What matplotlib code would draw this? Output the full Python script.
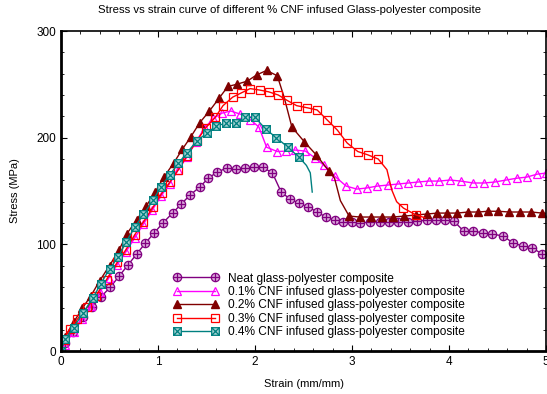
import numpy as np
import matplotlib
matplotlib.use("Agg")
import matplotlib.pyplot as plt
from matplotlib.path import Path

plt.rcParams['font.family'] = ['Liberation Sans', 'DejaVu Sans']

# Neat glass-polyester composite
neat_x = [0, 0.04, 0.12, 0.23, 0.32, 0.41, 0.51, 0.60, 0.69, 0.78, 0.87, 0.96, 1.05, 1.15,
          1.24, 1.33, 1.43, 1.52, 1.61, 1.71, 1.80, 1.90, 1.99, 2.08, 2.18, 2.27, 2.36, 2.45,
          2.55, 2.64, 2.73, 2.82, 2.91, 3.00, 3.08, 3.19, 3.29, 3.38, 3.47, 3.58, 3.67, 3.77,
          3.87, 3.96, 4.05, 4.15, 4.25, 4.35, 4.44, 4.56, 4.66, 4.76, 4.86, 4.96, 5.0]
neat_y = [0, 7.5, 17.8, 31.9, 41.2, 50.6, 60, 70.3, 80.6, 90.9, 101.2, 110.6, 120, 129.3,
          137.8, 146.2, 153.7, 162.1, 167.8, 171.5, 170.6, 171.5, 172.4, 172.4, 166.8, 149, 142.5, 138.7,
          135, 130.3, 125.6, 122.8, 120.9, 120.9, 120, 121, 121, 121, 121, 121, 121.8, 122.8,
          122.8, 122.8, 121.8, 112.5, 112.5, 110.6, 109.7, 107.8, 101.2, 98.4, 96.5, 91, 90]

# 0.1% CNF
c01_x = [0, 0.04, 0.13, 0.22, 0.31, 0.40, 0.49, 0.58, 0.67, 0.76, 0.85, 0.94, 1.03, 1.12,
         1.21, 1.30, 1.39, 1.48, 1.57, 1.66, 1.75, 1.85, 1.95, 2.04, 2.12, 2.23, 2.32, 2.41,
         2.52, 2.62, 2.71, 2.82, 2.94, 3.05, 3.15, 3.26, 3.37, 3.47, 3.58, 3.68, 3.79, 3.90,
         4.01, 4.12, 4.25, 4.36, 4.47, 4.59, 4.70, 4.80, 4.91, 5.0]
c01_y = [0, 6, 18, 30, 42, 55, 68, 81, 93, 106, 119, 132, 145, 157,
         170, 182, 196, 209, 218, 223, 225, 222, 217, 210, 191, 187, 187.4, 188.4,
         187.4, 181, 174, 164, 154.6, 151.8, 152.8, 154.6, 155.6, 156.5, 157.5, 158.4, 159.3, 159.3,
         160.3, 159.3, 157.5, 157.5, 158.4, 160.3, 162, 163, 165.8, 166.8]

# 0.2% CNF
c02_x = [0, 0.04, 0.13, 0.22, 0.31, 0.40, 0.50, 0.60, 0.68, 0.78, 0.88, 0.97, 1.06, 1.16,
         1.25, 1.34, 1.43, 1.53, 1.63, 1.72, 1.81, 1.92, 2.02, 2.12, 2.23, 2.30, 2.38, 2.51,
         2.63, 2.76, 2.82, 2.88, 2.97, 3.08, 3.20, 3.31, 3.42, 3.54, 3.66, 3.77, 3.88, 3.98,
         4.08, 4.20, 4.30, 4.40, 4.51, 4.62, 4.73, 4.85, 4.96, 5.0]
c02_y = [0, 13, 27, 40, 52, 66, 80, 95, 110, 123, 136, 149, 163, 176,
         189, 201, 214, 225, 237, 248, 250, 253, 259, 263, 258, 238, 210, 196,
         184, 169, 162, 141, 126.5, 125.6, 125.6, 125.6, 125.6, 126.5, 127.5, 128.4, 129.3, 129.3,
         129.3, 130.3, 130.3, 131, 131, 130.3, 130.3, 130.3, 129.3, 129]
c02_nomark = [25, 30, 31, 51]

# 0.3% CNF
c03_x = [0, 0.03, 0.09, 0.17, 0.27, 0.36, 0.47, 0.58, 0.67, 0.76, 0.85, 0.95, 1.04, 1.12,
         1.21, 1.30, 1.40, 1.49, 1.59, 1.67, 1.77, 1.86, 1.95, 2.05, 2.14, 2.24, 2.33, 2.43,
         2.54, 2.64, 2.74, 2.85, 2.95, 3.06, 3.16, 3.27, 3.36, 3.41, 3.46, 3.53, 3.66, 3.75]
c03_y = [0, 10, 21, 30, 41, 52, 67, 83, 95, 109, 121, 135, 148, 158,
         170, 183, 197, 209, 219, 230, 238, 242, 246, 244.6, 243, 240, 235, 230,
         228, 226, 217, 207, 195, 187, 184, 180, 170, 151, 140, 134, 127.5, 125]
c03_nomark = [36, 37, 38, 41]

# 0.4% CNF
c04_x = [0, 0.04, 0.13, 0.23, 0.33, 0.41, 0.50, 0.59, 0.67, 0.76, 0.85, 0.95, 1.03, 1.12,
         1.21, 1.30, 1.40, 1.50, 1.60, 1.70, 1.80, 1.90, 2.00, 2.11, 2.22, 2.34, 2.45, 2.53,
         2.57, 2.59]
c04_y = [0, 11, 22, 36, 50, 63, 77, 88, 102, 116, 128, 141.5, 154, 165,
         176, 186, 197, 204, 211, 213.6, 213.6, 219, 219, 208, 200, 191, 182, 174,
         167, 149]
c04_nomark = [27, 28, 29]

labels = ["Neat glass-polyester composite",
          "0.1% CNF infused glass-polyester composite",
          "0.2% CNF infused glass-polyester composite",
          "0.3% CNF infused glass-polyester composite",
          "0.4% CNF infused glass-polyester composite"]


def marked(n, skip=()):
    return [i for i in range(n) if i not in skip]


# circle with a plus, square with an X
M, L = Path.MOVETO, Path.LINETO
oplus = Path.make_compound_path(
    Path.unit_circle(),
    Path([[-1, 0], [1, 0]], [M, L]),
    Path([[0, -1], [0, 1]], [M, L]))
boxx = Path.make_compound_path(
    Path([[-1, -1], [1, -1], [1, 1], [-1, 1], [-1, -1]], [M, L, L, L, Path.CLOSEPOLY]),
    Path([[-1, -1], [1, 1]], [M, L]),
    Path([[-1, 1], [1, -1]], [M, L]))

fig = plt.figure(figsize=(5.47, 3.94), dpi=100)
ax = fig.add_axes([61/547, 1-351/394, 485/547, 320/394])

lw = 1.0
ax.plot(neat_x, neat_y, color='#800080', lw=lw, marker=oplus, ms=6, mfc='#d9a6d9', mew=0.9,
        markevery=marked(len(neat_x), [len(neat_x)-1]), label=labels[0])
ax.plot(c01_x, c01_y, color='#ff00ff', lw=lw, marker='^', ms=5.5, mfc='none', mew=0.9,
        markevery=marked(len(c01_x)), label=labels[1])
ax.plot(c02_x, c02_y, color='#800000', lw=lw, marker='^', ms=5.5,
        markevery=marked(len(c02_x), c02_nomark), label=labels[2])
ax.plot(c03_x, c03_y, color='#ff0000', lw=lw, marker='s', ms=5.5, mfc='none', mew=0.9,
        markevery=marked(len(c03_x), c03_nomark), label=labels[3])
ax.plot(c04_x, c04_y, color='#008080', lw=lw, marker=boxx, ms=5.5, mfc='#a6d3d3', mew=0.9,
        markevery=marked(len(c04_x), c04_nomark), label=labels[4])

ax.set_xlim(0, 5)
ax.set_ylim(0, 300)
ax.set_xticks([0, 1, 2, 3, 4, 5])
ax.set_yticks([0, 100, 200, 300])
ax.set_xticks(np.arange(0, 5.01, 0.2), minor=True)
ax.set_yticks(np.arange(0, 301, 20), minor=True)
ax.tick_params(which='both', direction='in', top=True, right=True, labelsize=8.5)
ax.tick_params(which='major', length=4, width=0.8)
ax.tick_params(which='minor', length=2, width=0.6)
for side in ['left', 'bottom']:
    ax.spines[side].set_linewidth(2)
for side in ['top', 'right']:
    ax.spines[side].set_linewidth(1.2)

fig.text(290/547, 1-10/394, "Stress vs strain curve of different % CNF infused Glass-polyester composite",
         fontsize=8.2, ha='center', va='center')
ax.set_xlabel("Strain (mm/mm)", fontsize=8, labelpad=8)
ax.set_ylabel("Stress (MPa)", fontsize=8, labelpad=12)

ax.legend(loc='upper left', bbox_to_anchor=(0.231, 0.245), frameon=False, fontsize=8.6,
          numpoints=2, handlelength=3.8, handletextpad=0.8, labelspacing=0.12,
          borderpad=0, borderaxespad=0)

fig.savefig("out.png", dpi=100)
